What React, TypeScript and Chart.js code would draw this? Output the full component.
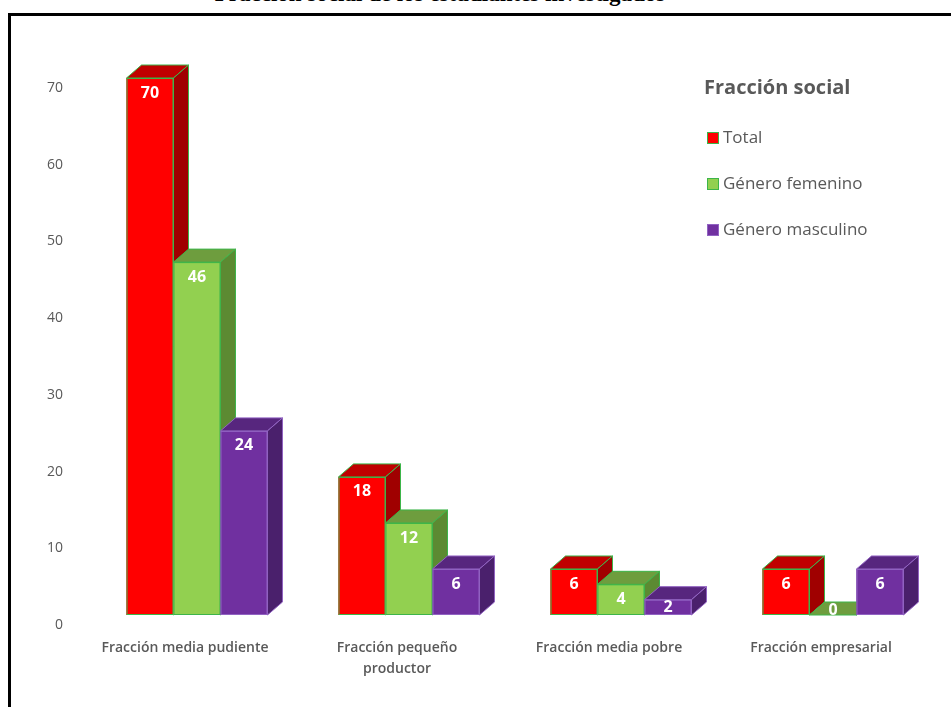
import React, { useEffect, useRef } from "react";
import { Chart, registerables } from "chart.js";

Chart.register(...registerables);

// ---- data ----
const categories: (string | string[])[] = [
  "Fracción media pudiente",
  ["Fracción pequeño", "productor"],
  "Fracción media pobre",
  "Fracción empresarial",
];
const seriesNames = ["Total", "Género femenino", "Género masculino"];
const totalValues = [70, 18, 6, 6];
const femeninoValues = [46, 12, 4, 0];
const masculinoValues = [24, 6, 2, 6];
const yMin = 0;
const yMax = 70;
const yStep = 10;
const legendTitle = "Fracción social";
const pageTitle = "Fracción social de los estudiantes investigados";

// ---- styles ----
const FRONT = ["#FF0000", "#92D050", "#7030A0"];
const TOP = ["#C00000", "#6E9D3E", "#57267E"];
const SIDE = ["#A00000", "#5C8A32", "#4A206C"];
const EDGE = ["#3DB54A", "#3DB54A", "#9163C2"];
const TEXT = "#595959";
const FONT = "'Open Sans', 'DejaVu Sans', sans-serif";
const DX = 15;
const DY = 13;

const bars3d = {
  id: "bars3d",
  afterDatasetsDraw(chart: any) {
    const ctx = chart.ctx;
    ctx.save();
    ctx.lineWidth = 1;
    chart.data.datasets.forEach((_ds: any, di: number) => {
      const meta = chart.getDatasetMeta(di);
      meta.data.forEach((bar: any) => {
        const { x, y, base, width } = bar.getProps(["x", "y", "base", "width"], true);
        const l = x - width / 2;
        const r = x + width / 2;
        ctx.strokeStyle = EDGE[di];
        // front
        ctx.fillStyle = FRONT[di];
        ctx.fillRect(l, y, width, base - y);
        if (base - y > 1) ctx.strokeRect(l + 0.5, y + 0.5, width - 1, base - y - 1);
        // top
        ctx.beginPath();
        ctx.moveTo(l, y);
        ctx.lineTo(l + DX, y - DY);
        ctx.lineTo(r + DX, y - DY);
        ctx.lineTo(r, y);
        ctx.closePath();
        ctx.fillStyle = TOP[di];
        ctx.fill();
        ctx.stroke();
        // side
        ctx.beginPath();
        ctx.moveTo(r, y);
        ctx.lineTo(r + DX, y - DY);
        ctx.lineTo(r + DX, base - DY);
        ctx.lineTo(r, base);
        ctx.closePath();
        ctx.fillStyle = SIDE[di];
        ctx.fill();
        ctx.stroke();
      });
    });
    // value labels
    ctx.fillStyle = "#FFFFFF";
    ctx.font = `bold 16px ${FONT}`;
    ctx.textAlign = "center";
    ctx.textBaseline = "middle";
    chart.data.datasets.forEach((ds: any, di: number) => {
      const meta = chart.getDatasetMeta(di);
      meta.data.forEach((bar: any, i: number) => {
        const { x, y, base } = bar.getProps(["x", "y", "base"], true);
        const h = base - y;
        const off = h <= 0 ? -5 : Math.min(15, h / 2);
        ctx.fillText(String(ds.data[i]), x, y + off);
      });
    });
    ctx.restore();
  },
};

const customLegend = {
  id: "customLegend",
  afterDraw(chart: any) {
    const ctx = chart.ctx;
    const area = chart.chartArea;
    const lx = area.right - 235;
    const ty = area.top + 10;
    ctx.save();
    ctx.fillStyle = TEXT;
    ctx.textAlign = "left";
    ctx.textBaseline = "middle";
    ctx.font = `bold 20px ${FONT}`;
    ctx.fillText(legendTitle, lx, ty);
    ctx.font = `17px ${FONT}`;
    seriesNames.forEach((name, i) => {
      const cy = ty + 50 + i * 46;
      ctx.fillStyle = FRONT[i];
      ctx.fillRect(lx + 3, cy - 6, 12, 12);
      ctx.strokeStyle = EDGE[i];
      ctx.lineWidth = 1;
      ctx.strokeRect(lx + 3.5, cy - 5.5, 11, 11);
      ctx.fillStyle = TEXT;
      ctx.fillText(name, lx + 19, cy);
    });
    ctx.restore();
  },
};

export default function App() {
  const canvasRef = useRef<HTMLCanvasElement | null>(null);

  useEffect(() => {
    document.body.style.margin = "0";
    const canvas = canvasRef.current;
    if (!canvas) return;
    const chart = new Chart(canvas, {
      type: "bar",
      data: {
        labels: categories as any,
        datasets: [
          { label: seriesNames[0], data: totalValues, backgroundColor: FRONT[0], borderWidth: 0 },
          { label: seriesNames[1], data: femeninoValues, backgroundColor: FRONT[1], borderWidth: 0 },
          { label: seriesNames[2], data: masculinoValues, backgroundColor: FRONT[2], borderWidth: 0 },
        ],
      },
      options: {
        responsive: false,
        animation: false,
        devicePixelRatio: 1,
        layout: { padding: { left: 0, right: 12, top: 78, bottom: 0 } },
        plugins: {
          legend: { display: false },
          title: { display: false },
          tooltip: { enabled: false },
        },
        datasets: {
          bar: { categoryPercentage: 0.665, barPercentage: 1 },
        },
        scales: {
          x: {
            grid: { display: false, drawTicks: false },
            border: { display: false },
            ticks: {
              color: TEXT,
              font: { family: FONT, size: 14, weight: "600", lineHeight: 1.5 },
              padding: 23,
              labelOffset: -12,
              maxRotation: 0,
              autoSkip: false,
            },
            afterFit: (s: any) => {
              s.height = 92;
            },
          },
          y: {
            min: yMin,
            max: yMax,
            grid: { display: false, drawTicks: false },
            border: { display: false },
            ticks: {
              stepSize: yStep,
              color: TEXT,
              font: { family: FONT, size: 14 },
              padding: 28,
              labelOffset: 10,
            },
            afterFit: (s: any) => {
              s.width = 91;
            },
          },
        },
      } as any,
      plugins: [bars3d, customLegend],
    });
    return () => chart.destroy();
  }, []);

  return (
    <div style={{ position: "relative", width: 951, height: 707, overflow: "hidden", background: "#fff" }}>
      <div
        style={{
          position: "absolute",
          top: -16,
          left: 0,
          width: 880,
          textAlign: "center",
          fontFamily: "'Liberation Serif', 'Times New Roman', serif",
          fontWeight: "bold",
          fontSize: 23,
          lineHeight: "20px",
          color: "#000",
          whiteSpace: "nowrap",
        }}
      >
        {pageTitle}
      </div>
      <div
        style={{
          position: "absolute",
          left: 8,
          top: 13,
          width: 980,
          height: 740,
          borderLeft: "3px solid #000",
          borderTop: "3px solid #000",
          boxSizing: "border-box",
        }}
      />
      <canvas
        ref={canvasRef}
        width={951}
        height={707}
        style={{ position: "absolute", left: 0, top: 0, width: 951, height: 707 }}
      />
    </div>
  );
}
